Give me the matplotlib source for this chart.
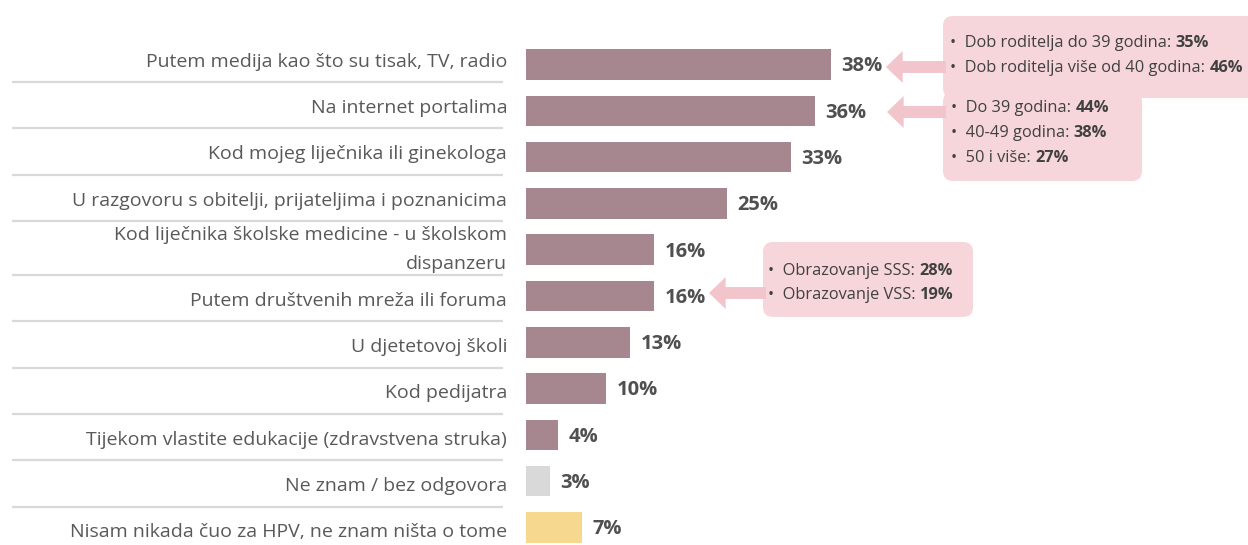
import matplotlib.pyplot as plt
import matplotlib.transforms as mtransforms
from matplotlib.patches import FancyBboxPatch

plt.rcParams['font.family'] = ['Open Sans', 'DejaVu Sans']

# data
categories = [
    "Putem medija kao što su tisak, TV, radio",
    "Na internet portalima",
    "Kod mojeg liječnika ili ginekologa",
    "U razgovoru s obitelji, prijateljima i poznanicima",
    "Kod liječnika školske medicine - u školskom\ndispanzeru",
    "Putem društvenih mreža ili foruma",
    "U djetetovoj školi",
    "Kod pedijatra",
    "Tijekom vlastite edukacije (zdravstvena struka)",
    "Ne znam / bez odgovora",
    "Nisam nikada čuo za HPV, ne znam ništa o tome",
]
values = [38, 36, 33, 25, 16, 16, 13, 10, 4, 3, 7]
bar_kind = ["main"] * 9 + ["dk", "never"]

callout_media = [("Dob roditelja do 39 godina: ", "35%"),
                 ("Dob roditelja više od 40 godina: ", "46%")]
callout_portal = [("Do 39 godina: ", "44%"),
                  ("40-49 godina: ", "38%"),
                  ("50 i više: ", "27%")]
callout_social = [("Obrazovanje SSS: ", "28%"),
                  ("Obrazovanje VSS: ", "19%")]

colors = {"main": "#A6868F", "dk": "#D9D9D9", "never": "#F6D98E"}
box_color = "#F6D6DB"
arrow_color = "#F2C5CC"
text_grey = "#595959"
dark = "#404040"

W, H, DPI = 12.48, 5.45, 100
fig = plt.figure(figsize=(W, H), dpi=DPI)
ax = fig.add_axes([0, 0, 1, 1])

# scale: bar origin at px 526, ~8.03 px per percent; rows 46.3 px apart, first at 64.5
px_per = 8.03
ax.set_xlim(-526 / px_per, (W * DPI - 526) / px_per)
ax.set_ylim((H * DPI - 64.5) / 46.3, -64.5 / 46.3)
ax.axis('off')

ypos = list(range(len(categories)))
ax.barh(ypos, values, height=0.66, color=[colors[k] for k in bar_kind], zorder=2)

for i, (y, v, lab) in enumerate(zip(ypos, values, categories)):
    ax.text(v + 1.3, y + 0.04, f"{v}%", ha='left', va='center', fontsize=14.5,
            fontweight='bold', color="#505050")
    if "\n" in lab:
        dy_lab = 0.0
    elif i < 4:
        dy_lab = -0.06
    else:
        dy_lab = 0.1
    ax.text(-2.35, y + dy_lab, lab, ha='right', va='center', fontsize=14,
            color=text_grey, linespacing=1.8)
    dy_line = 0.38 if i < 4 else 0.55
    if i < len(categories) - 1:
        ax.plot([-64.0, -2.9], [y + dy_line, y + dy_line], color="#D9D9D9", lw=1.6,
                solid_capstyle='butt', zorder=1)

# pixel coordinates (top-left origin) for the callouts
pix = mtransforms.Affine2D().scale(1 / DPI, -1 / DPI).translate(0, H) + fig.dpi_scale_trans
renderer = fig.canvas.get_renderer()


def box(x0, y0, x1, y1):
    p = FancyBboxPatch((x0, y0), x1 - x0, y1 - y0,
                       boxstyle="round,pad=0,rounding_size=10",
                       transform=pix, fc=box_color, ec='none', zorder=3)
    ax.add_patch(p)


def arrow(x_tail, x_tip, y):
    ax.annotate("", xy=(x_tip, y), xycoords=pix, xytext=(x_tail, y), textcoords=pix,
                arrowprops=dict(arrowstyle="simple,head_width=1.15,head_length=0.6,tail_width=0.43",
                                mutation_scale=20, fc=arrow_color, ec='none',
                                shrinkA=0, shrinkB=0), zorder=3)


def lines(items, x, y0, dy):
    for i, (plain, bold) in enumerate(items):
        yb = y0 + i * dy + 5
        t = ax.text(x, yb, "•  " + plain, transform=pix, ha='left', va='baseline',
                    fontsize=11.8, color=dark, zorder=4)
        bb = t.get_window_extent(renderer=renderer)
        ax.text(bb.x1, yb, bold, transform=pix, ha='left', va='baseline',
                fontsize=11.8, color=dark, fontweight='bold', zorder=4)


box(943, 16, 1262, 98)
box(943, 92, 1142, 181)
box(763, 242, 973, 317)

arrow(946, 886, 67)
arrow(946, 887, 112)
arrow(766, 709, 293)

lines(callout_media, 950, 42, 25)
lines(callout_portal, 951, 107, 25)
lines(callout_social, 768, 270, 24)

fig.savefig("out.png", dpi=DPI, facecolor='white')
